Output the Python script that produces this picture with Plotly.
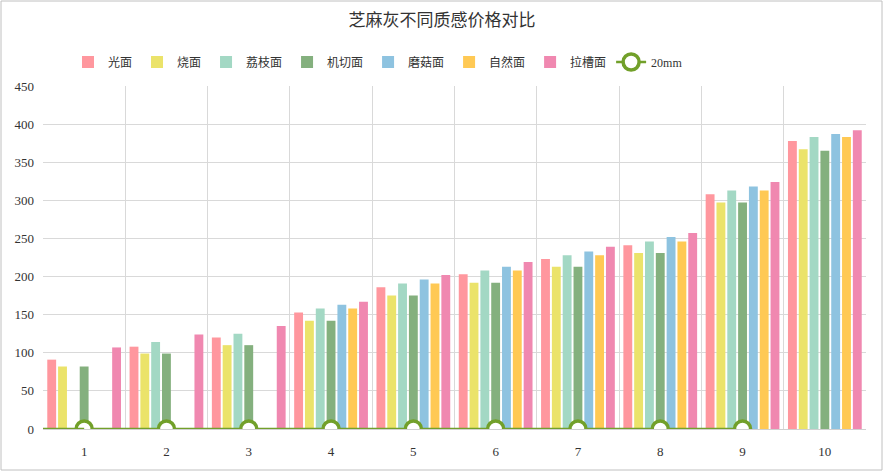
import plotly.graph_objects as go

categories = ["1", "2", "3", "4", "5", "6", "7", "8", "9", "10"]

guang = [91, 108, 120, 153, 186, 203, 223, 241, 308, 378]
shao = [82, 99, 110, 142, 175, 192, 213, 231, 297, 367]
lizhi = [None, 114, 125, 158, 191, 208, 228, 246, 313, 383]
jiqie = [82, 99, 110, 142, 175, 192, 213, 231, 297, 365]
mogu = [None, None, None, 163, 196, 213, 233, 252, 318, 387]
ziran = [None, None, None, 158, 191, 208, 228, 246, 313, 383]
lacao = [107, 124, 135, 167, 202, 219, 239, 257, 324, 392]
mm20 = [0, 0, 0, 0, 0, 0, 0, 0, 0, None]

series = [
    ("光面", guang, "#FF979E"),
    ("烧面", shao, "#EBE36A"),
    ("荔枝面", lizhi, "#A3D8C4"),
    ("机切面", jiqie, "#84B07E"),
    ("磨菇面", mogu, "#8EC3E0"),
    ("自然面", ziran, "#FFC954"),
    ("拉槽面", lacao, "#F088B0"),
]

font = "Liberation Serif, Noto Sans CJK SC, serif"
green = "#72A02A"

fig = go.Figure()
for name, vals, col in series:
    fig.add_trace(go.Bar(x=categories, y=vals, name=name,
                         marker=dict(color=col, line=dict(width=0))))

fig.add_trace(go.Scatter(x=categories, y=mm20, name="20mm", mode="lines+markers",
                         line=dict(color=green, width=2.5),
                         marker=dict(size=16, color="white",
                                     line=dict(color=green, width=3.5))))

W, H = 884, 472
ml, mr, mt, mb = 43, 18, 86, 43
pw, ph = W - ml - mr, H - mt - mb

fig.update_layout(
    width=W, height=H,
    margin=dict(l=ml, r=mr, t=mt, b=mb, autoexpand=False),
    paper_bgcolor="white", plot_bgcolor="white",
    font=dict(family=font, color="#333333", size=13),
    title=dict(text="芝麻灰不同质感价格对比", x=0.5, xanchor="center",
               y=1 - 20 / H, yanchor="middle",
               font=dict(size=17, color="#333333", family=font)),
    barmode="group", bargap=0.08, bargroupgap=0.18,
    legend=dict(orientation="h", x=(378 - ml) / pw, xanchor="center",
                y=1 + (86 - 62) / ph, yanchor="middle",
                font=dict(size=12, color="#333333"),
                itemwidth=30, tracegroupgap=0, bgcolor="rgba(0,0,0,0)"),
    xaxis=dict(type="category", tickson="boundaries", showgrid=True,
               gridcolor="#D9D9D9", gridwidth=1, ticks="", showline=True,
               linecolor="#D0D0D0", tickfont=dict(size=13, color="#333333"),
               ticklabelstandoff=10, range=[-0.5, 9.5]),
    yaxis=dict(range=[0, 450], dtick=50, showgrid=True, gridcolor="#D9D9D9",
               zeroline=False, ticks="", ticklabelstandoff=8,
               tickfont=dict(size=13, color="#333333")),
    shapes=[
        dict(type="rect", xref="paper", yref="paper",
             x0=-(ml - 1) / pw, x1=1 + (mr - 2) / pw,
             y0=-(mb - 2) / ph, y1=1 + (mt - 1) / ph,
             line=dict(color="#C0C0C0", width=1), layer="below"),
        dict(type="line", xref="paper", yref="y", x0=0, x1=0.05, y0=0, y1=0,
             line=dict(color=green, width=2.5), layer="above"),
    ],
)

fig.write_html("out.html", config={"displayModeBar": False},
               post_script="document.body.style.margin='0';")
